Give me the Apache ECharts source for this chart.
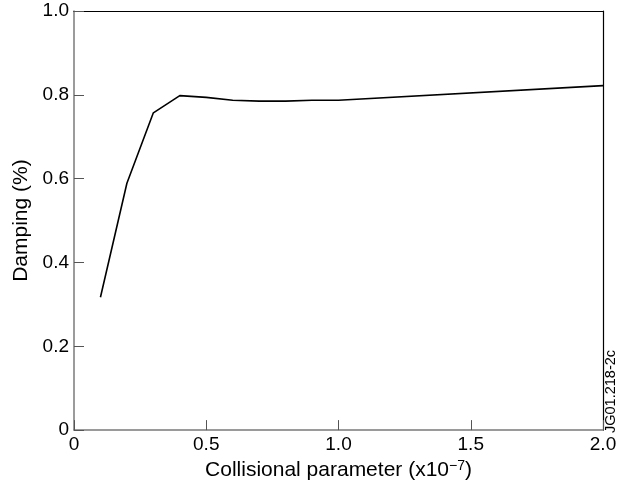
<!DOCTYPE html>
<html>
<head>
<meta charset="utf-8">
<script src="https://cdn.jsdelivr.net/npm/echarts@6/dist/echarts.min.js"></script>
<style>
  html, body { margin: 0; padding: 0; background: #fff; }
  #chart { width: 624px; height: 486px; }
</style>
</head>
<body>
<div id="chart"></div>
<script>
// Collisional parameter (x10^-7)
const collisional = [0.1, 0.2, 0.3, 0.4, 0.5, 0.6, 0.7, 0.8, 0.9, 1.0, 2.0];
// Damping (%)
const damping = [0.317, 0.589, 0.757, 0.798, 0.794, 0.787, 0.785, 0.785, 0.787, 0.787, 0.822];

const xTicks = [0, 0.5, 1.0, 1.5, 2.0];
const yTicks = [0, 0.2, 0.4, 0.6, 0.8, 1.0];

const FONT = '"Liberation Sans", Arial, Helvetica, sans-serif';
const fmt = v => (v === 0 ? '0' : v.toFixed(1));

const chart = echarts.init(document.getElementById('chart'), null, { renderer: 'canvas' });

const points = collisional.map((x, i) => [x, damping[i]]);

chart.setOption({
  animation: false,
  backgroundColor: '#fff',
  grid: { left: 74, top: 11, right: 21, bottom: 52, show: false },
  xAxis: [
    {
      type: 'value',
      min: xTicks[0],
      max: xTicks[xTicks.length - 1],
      interval: 0.5,
      position: 'bottom',
      axisLine: { show: true, lineStyle: { color: '#7a7a7a', width: 1.5 } },
      axisTick: { show: true, inside: true, length: 10, lineStyle: { color: '#555', width: 1 } },
      axisLabel: { formatter: fmt, color: '#000', fontSize: 19, fontFamily: FONT, margin: 5 },
      splitLine: { show: false },
      name: 'Collisional parameter (x10{sup|\u22127})',
      nameLocation: 'middle',
      nameGap: 21,
      nameTextStyle: {
        color: '#000', fontSize: 21, fontFamily: FONT, verticalAlign: 'top',
        rich: { sup: { fontSize: 14, fontFamily: FONT, color: '#000', verticalAlign: 'top', padding: [0, 0, 9, 0] } }
      }
    },
    {
      type: 'value',
      min: 0, max: 2,
      position: 'top',
      axisLine: { show: true, onZero: false, lineStyle: { color: '#000', width: 1.2 } },
      axisTick: { show: false },
      axisLabel: { show: false },
      splitLine: { show: false }
    }
  ],
  yAxis: [
    {
      type: 'value',
      min: yTicks[0],
      max: yTicks[yTicks.length - 1],
      interval: 0.2,
      position: 'left',
      axisLine: { show: true, lineStyle: { color: '#7a7a7a', width: 1.5 } },
      axisTick: { show: true, inside: true, length: 10, lineStyle: { color: '#555', width: 1 } },
      axisLabel: { formatter: fmt, color: '#000', fontSize: 19, fontFamily: FONT, margin: 5 },
      splitLine: { show: false },
      name: 'Damping (%)',
      nameLocation: 'middle',
      nameGap: 37,
      nameTextStyle: { color: '#000', fontSize: 21, fontFamily: FONT }
    },
    {
      type: 'value',
      min: 0, max: 1,
      position: 'right',
      axisLine: { show: true, onZero: false, lineStyle: { color: '#000', width: 1.2 } },
      axisTick: { show: false },
      axisLabel: { show: false },
      splitLine: { show: false }
    }
  ],
  series: [
    {
      type: 'line',
      data: points,
      xAxisIndex: 0,
      yAxisIndex: 0,
      showSymbol: false,
      symbol: 'none',
      lineStyle: { color: '#000', width: 1.6 },
      silent: true
    }
  ],
  graphic: [
    {
      type: 'text',
      x: 618,
      y: 433,
      rotation: Math.PI / 2,
      style: {
        text: 'JG01.218-2c', fontSize: 14.5, fontFamily: FONT, fill: '#000',
        textAlign: 'left', textVerticalAlign: 'bottom'
      }
    }
  ]
});
</script>
</body>
</html>
